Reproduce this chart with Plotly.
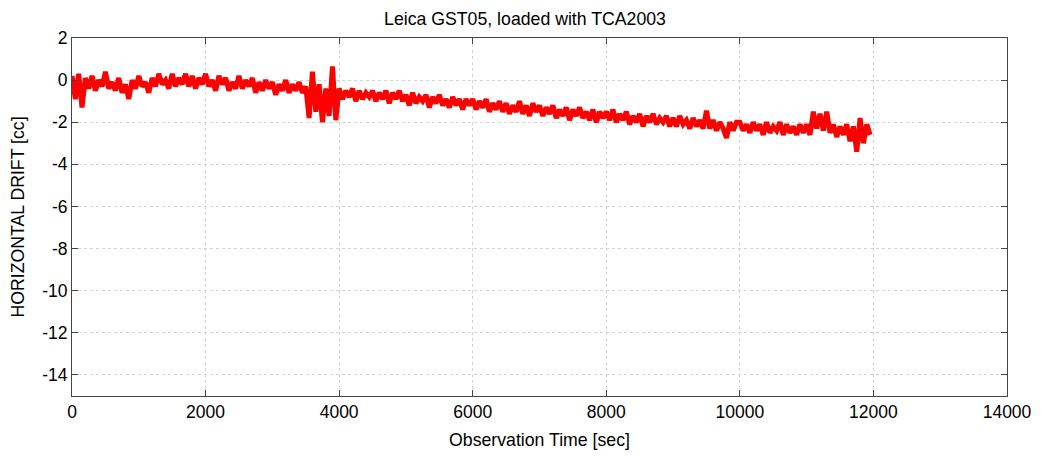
import plotly.graph_objects as go

time_start = 0
time_step = 50

drift_0000 = [0.2, -0.9, 0.3, -1.3, 0.1, -0.4, 0.2, -0.5, 0.0, -0.3, 0.4, -0.4, -0.1, -0.5, 0.1, -0.6, -0.2, -0.9, 0.0, -0.4,
              0.2, -0.3, -0.1, -0.6, 0.1, -0.3, 0.3, -0.2, 0.0, -0.4, 0.3, -0.3, 0.1, -0.2, 0.3, -0.3, 0.2, -0.4, 0.1, -0.2]
drift_2000 = [0.3, -0.3, 0.0, -0.5, 0.2, -0.2, 0.1, -0.5, -0.1, -0.4, 0.2, -0.4, 0.0, -0.3, 0.1, -0.6, -0.1, -0.5, 0.0, -0.4,
              -0.1, -0.7, -0.2, -0.5, 0.0, -0.6, -0.2, -0.5, -0.1, -0.6]
drift_3500 = [-0.3, -1.8, 0.4, -1.5, -0.2, -2.0, -0.4, -1.7, 0.65, -1.9]
drift_4000 = [-0.4, -0.9, -0.5, -0.8, -0.4, -1.0, -0.5, -0.9, -0.6, -0.8, -0.5, -1.0, -0.6, -0.9, -0.5, -1.1, -0.6, -0.9, -0.5, -1.0]
drift_5000 = [-0.7, -1.2, -0.6, -1.1, -0.8, -1.0, -0.7, -1.3, -0.8, -1.1, -0.7, -1.2, -0.9, -1.3, -0.8, -1.2, -0.9, -1.4, -0.9, -1.2]
drift_6000 = [-0.9, -1.4, -1.0, -1.3, -0.9, -1.5, -1.1, -1.4, -1.0, -1.5, -1.1, -1.6, -1.2, -1.5, -1.0, -1.6, -1.2, -1.7, -1.1, -1.5]
drift_7000 = [-1.2, -1.7, -1.3, -1.6, -1.2, -1.8, -1.4, -1.7, -1.3, -1.9, -1.4, -1.7, -1.3, -1.8, -1.5, -1.9, -1.4, -2.0, -1.5, -1.8]
drift_8000 = [-1.5, -1.9, -1.4, -2.0, -1.6, -1.9, -1.5, -2.1, -1.7, -2.0, -1.6, -2.2, -1.7, -2.0, -1.6, -2.1, -1.8, -2.0, -1.7, -2.2]
drift_9000 = [-1.8, -2.2, -1.7, -2.1, -1.9, -2.3, -1.8, -2.2, -1.9, -2.3, -1.45, -2.3, -1.9, -2.4, -2.0, -2.3, -2.75, -2.0, -2.4, -2.0]
drift_10000 = [-2.0, -2.4, -2.1, -2.5, -2.0, -2.4, -2.1, -2.6, -2.0, -2.5, -2.2, -2.4, -2.0, -2.6, -2.1, -2.5, -2.2, -2.6, -2.1, -2.5]
drift_11000 = [-2.1, -2.6, -1.5, -2.3, -1.6, -2.4, -1.5, -2.5, -2.1, -2.7, -2.2, -2.6, -2.1, -2.9, -2.2, -3.4, -1.8, -3.0, -2.1, -2.6]

drift = (drift_0000 + drift_2000 + drift_3500 + drift_4000 + drift_5000 + drift_6000
         + drift_7000 + drift_8000 + drift_9000 + drift_10000 + drift_11000)
times = [time_start + i * time_step for i in range(len(drift))]

x_ticks = [0, 2000, 4000, 6000, 8000, 10000, 12000, 14000]
y_ticks = [2, 0, -2, -4, -6, -8, -10, -12, -14]

fig = go.Figure()
fig.add_trace(go.Scatter(x=times, y=drift, mode="lines",
                         line=dict(color="#ff0000", width=5), showlegend=False))

FAM = "Liberation Sans, Arial, sans-serif"
tick_font = dict(family=FAM, size=17.5, color="#000000")
title_font = dict(family=FAM, size=17.7, color="#000000")
axis_common = dict(
    showline=True, linecolor="#444444", linewidth=1, mirror="ticks",
    ticks="inside", ticklen=6, tickcolor="#444444",
    showgrid=True, gridcolor="#d4d4d4", griddash="dot", gridwidth=1,
    zeroline=False, tickfont=tick_font, automargin=False,
)
# page body has an 8px default margin, so the figure is sized to fit the window
fig.update_layout(
    width=1034, height=448,
    margin=dict(l=64, r=35, t=30, b=60),
    paper_bgcolor="white", plot_bgcolor="white",
    font=tick_font,
    title=dict(text="Leica GST05, loaded with TCA2003", x=0.5, xanchor="center",
               y=1 - 11 / 448, yanchor="middle", font=title_font),
    xaxis=dict(range=[0, 14000], tickvals=x_ticks, ticktext=[str(v) for v in x_ticks],
               title=dict(text="Observation Time [sec]", font=title_font, standoff=12), **axis_common),
    yaxis=dict(range=[-15, 2], tickvals=y_ticks, ticktext=[str(v) for v in y_ticks],
               title=dict(text="HORIZONTAL DRIFT [cc]", font=title_font, standoff=14), **axis_common),
)
fig.write_html("out.html")
